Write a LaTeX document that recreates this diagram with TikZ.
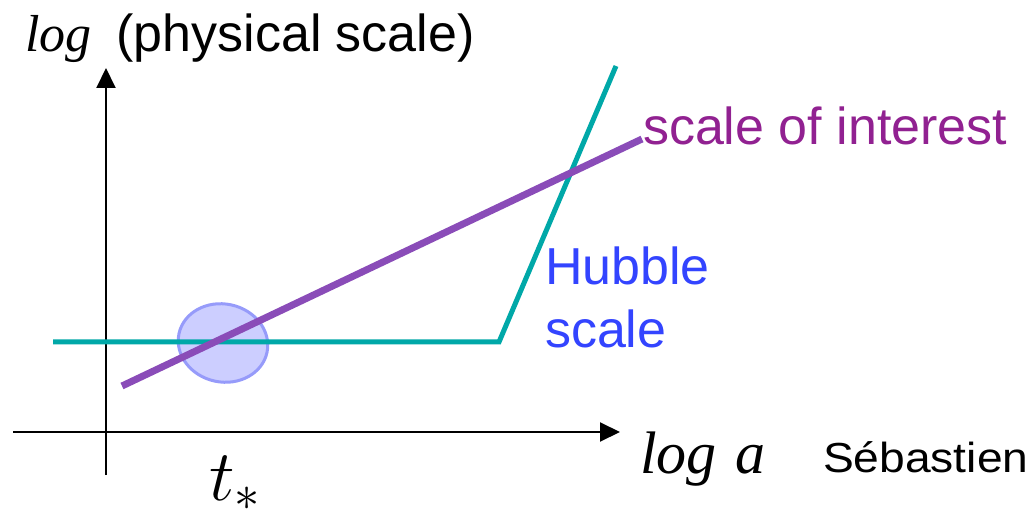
\documentclass[tikz,border=0pt]{standalone}
\usepackage{fix-cm}
\usepackage{fontspec}
\setmainfont{Liberation Sans}
\newfontfamily\tms{Liberation Serif}
\usetikzlibrary{arrows.meta,shapes.geometric}
\definecolor{tealline}{RGB}{0,168,168}
\definecolor{purpline}{RGB}{138,76,184}
\definecolor{purptxt}{RGB}{145,33,145}
\definecolor{hblue}{RGB}{51,68,255}
\definecolor{efill}{RGB}{204,206,255}
\definecolor{edraw}{RGB}{150,155,250}
\begin{document}
\begin{tikzpicture}[x=1pt,y=-1pt,
  txt/.style={inner sep=0pt,outer sep=0pt,anchor=base west},
  axis/.style={line width=2pt,-{Triangle[length=20pt,width=19pt]}},
  big/.style={font=\fontsize{52}{63}\selectfont}]
\useasboundingbox (0,0) rectangle (1033,510);
% axes
\coordinate (yb) at (106,475);
\coordinate (yt) at (106,68);
\coordinate (xl) at (13,432);
\coordinate (xr) at (620,432);
\draw[axis] (yb) -- (yt);
\draw[axis] (xl) -- (xr);
% blob
\node (blob) [ellipse, draw=edraw, fill=efill, line width=3pt, minimum width=90pt, minimum height=78pt, inner sep=0pt, rotate=-12] at (223,343) {};
% hubble scale line
\coordinate (h0) at (53,342);
\coordinate (h1) at (499,342);
\coordinate (h2) at (616,66);
\draw[tealline, line width=5pt] (h0) -- (h1) -- (h2);
% scale of interest line
\coordinate (p0) at (122,386);
\coordinate (p1) at (642,139);
\draw[purpline, line width=7pt] (p0) -- (p1);
% labels
\node[txt,big] (ylab) at (25,52) {{\tms\itshape log}\hspace{25pt}(physical scale)};
\node[txt,font=\fontsize{60}{64}\selectfont\tms\itshape] (xlab) at (640,473) {log\hspace{4pt} a};
\node[txt,font=\fontsize{42}{46}\selectfont,xscale=1.1] (author) at (823,472) {Sébastien};
\node[txt,font=\fontsize{72}{80}\selectfont] (tstar) at (209,500) {$t_*$};
\node[txt,big,text=purptxt] (soi) at (643,145) {scale of interest};
\node[txt,big,text=hblue,align=left] (hub) at (545,348) {Hubble\\scale};
\end{tikzpicture}
\end{document}
